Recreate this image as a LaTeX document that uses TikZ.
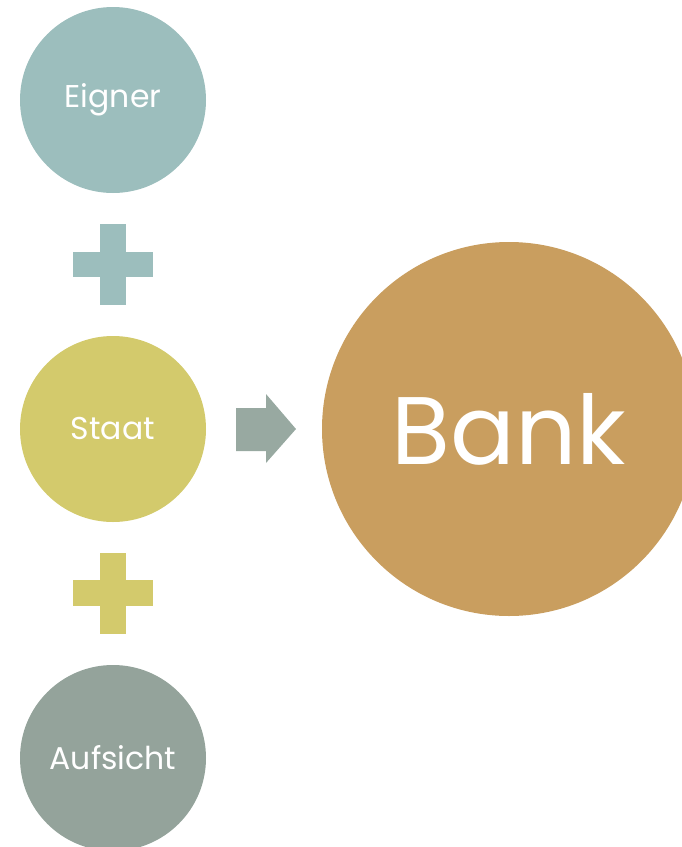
\documentclass[tikz,border=0pt]{standalone}
\usepackage{fontspec}
\setmainfont{Poppins}
\usetikzlibrary{positioning}
\definecolor{eignercol}{HTML}{9CBEBD}
\definecolor{staatcol}{HTML}{D3CA6C}
\definecolor{aufsichtcol}{HTML}{94A39B}
\definecolor{bankcol}{HTML}{C99E5F}
\definecolor{pfeilcol}{HTML}{98A9A1}
\begin{document}
\begin{tikzpicture}[x=1pt,y=-1pt,
  ball/.style={circle,inner sep=0pt,minimum size=186pt,text=white,font=\fontsize{31.5}{31.5}\selectfont},
  bigball/.style={circle,inner sep=0pt,minimum size=374pt,text=white,font=\fontsize{96}{96}\selectfont}]
\useasboundingbox (0,0) rectangle (682,847);
\clip (0,0) rectangle (682,847);
% Kreise
\node [ball,fill=eignercol] (eigner) at (113,100) {Eigner};
\node [ball,fill=staatcol] (staat) at (113,429) {Staat};
\node [ball,fill=aufsichtcol] (aufsicht) at (113,758) {Aufsicht};
\node [bigball,fill=bankcol] (bank) at (509,429) {Bank};
% Pluszeichen
\fill [eignercol] (73,252) rectangle (153,277);
\fill [eignercol] (100,224) rectangle (126,305);
\fill [staatcol] (73,580) rectangle (153,606);
\fill [staatcol] (100,553) rectangle (126,634);
% Pfeil
\fill [pfeilcol] (236,408) -- (266,408) -- (266,394) -- (296,429) -- (266,463) -- (266,451) -- (236,451) -- cycle;
\end{tikzpicture}
\end{document}
